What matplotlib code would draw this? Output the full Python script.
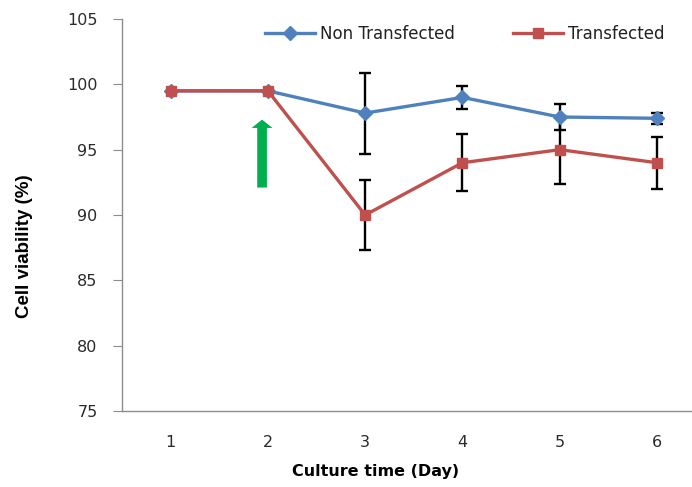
import matplotlib.pyplot as plt
import numpy as np

# data
days = [1, 2, 3, 4, 5, 6]
non_transfected = [99.5, 99.5, 97.8, 99.0, 97.5, 97.4]
non_err = [0, 0, 3.1, 0.9, 1.0, 0.4]
transfected = [99.5, 99.5, 90.0, 94.0, 95.0, 94.0]
trans_err = [0, 0, 2.7, 2.2, 2.6, 2.0]
yticks = [75, 80, 85, 90, 95, 100, 105]

blue = '#4F81BD'
red = '#C0504D'
grey = '#8C8C8C'

fig = plt.figure(figsize=(6.92, 4.87), dpi=100)
ax = fig.add_axes([0.1763, 0.156, 0.8237, 0.805])

# error bars (only where nonzero)
for x, y, e in zip(days, non_transfected, non_err):
    if e > 0:
        ax.errorbar(x, y, yerr=e, fmt='none', ecolor='black', elinewidth=1.7,
                    capsize=4, capthick=1.7, zorder=2)
for x, y, e in zip(days, transfected, trans_err):
    if e > 0:
        ax.errorbar(x, y, yerr=e, fmt='none', ecolor='black', elinewidth=1.7,
                    capsize=4, capthick=1.7, zorder=2)

ax.plot(days, non_transfected, color=blue, lw=2.4, marker='D', ms=7,
        label='Non Transfected', zorder=3)
ax.plot(days, transfected, color=red, lw=2.4, marker='s', ms=7.5,
        label='Transfected', zorder=4)

# green arrow marking transfection
ax.annotate('', xy=(1.94, 97.3), xytext=(1.94, 92.1),
            arrowprops=dict(facecolor='#00B050', edgecolor='none',
                            width=7, headwidth=15, headlength=6))

ax.set_xlim(0.5, 6.36)
ax.set_ylim(75, 105)
ax.set_xticks(days)
ax.set_yticks(yticks)

for s in ['top', 'right']:
    ax.spines[s].set_visible(False)
for s in ['left', 'bottom']:
    ax.spines[s].set_color(grey)
    ax.spines[s].set_linewidth(1.0)

ax.tick_params(axis='y', direction='out', length=6.5, color=grey,
               labelsize=11.5, labelcolor='#2a2a2a', pad=11)
ax.tick_params(axis='x', length=0, labelsize=11.5, labelcolor='#2a2a2a', pad=17)

fig.text(0.036, 0.495, 'Cell viability (%)', rotation=90, ha='center', va='center',
         fontsize=13.5, fontweight='bold', family='Liberation Sans')
fig.text(0.543, 0.016, 'Culture time (Day)', ha='center', va='bottom',
         fontsize=11.5, fontweight='bold')

ax.legend(ncol=2, loc='center', bbox_to_anchor=(0.672, 0.930),
          bbox_transform=fig.transFigure, frameon=False, fontsize=12,
          handlelength=3.0, handletextpad=0.3, columnspacing=3.5,
          labelcolor='#222222')

fig.savefig('out.png', dpi=100)
